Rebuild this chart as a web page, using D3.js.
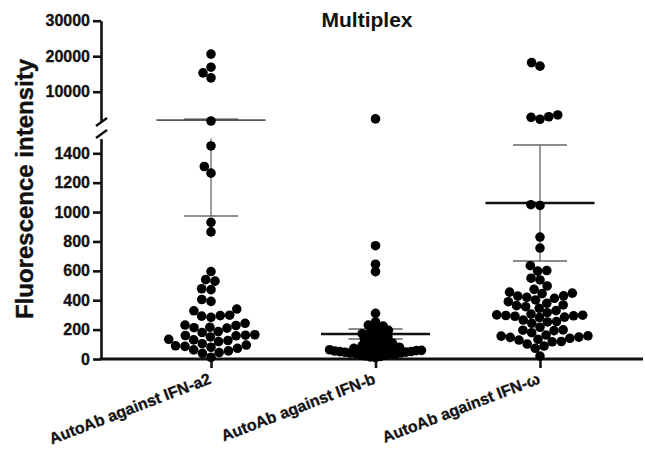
<!DOCTYPE html>
<html>
<head>
<meta charset="utf-8">
<script src="https://cdn.jsdelivr.net/npm/d3@7"></script>
<style>
  body { margin: 0; background: #fff; }
  text { font-family: "Liberation Sans", Arial, sans-serif; font-weight: bold; fill: #111; }
</style>
</head>
<body>
<svg id="canvas" width="645" height="468"></svg>
<script>
// ************************************************************************************************** //
// Data

const categories = ['AutoAb against IFN-a2', 'AutoAb against IFN-b', 'AutoAb against IFN-ω'];

const valuesA2 = [20600, 16900, 15300, 13900, 1750, 1450, 1310, 1265, 930, 865, 595, 540, 530, 478, 472, 405, 392,
  340, 328, 298, 295, 292, 284, 243, 231, 228, 216, 213, 210, 186, 180, 165, 162, 160, 158, 150, 134, 130, 126, 118,
  104, 95, 90, 86, 80, 73, 62, 55, 44, 39, 12];

const valuesB = [2350, 771, 645, 594, 311, 252, 231, 224, 210, 203, 195, 188, 181, 172, 166, 160, 151, 147, 140, 131,
  127, 119, 113, 108, 104, 97, 93, 88, 84, 80, 77, 73, 70, 68, 65, 63, 61, 59, 57, 56, 54, 53, 51, 50, 49, 47, 46, 44,
  42, 40, 38, 35, 33, 30, 26, 22, 18, 14, 10];

const valuesW = [18200, 17200, 3450, 2950, 2800, 2250, 1050, 1045, 830, 755, 635, 602, 598, 550, 538, 497, 474, 455,
  448, 445, 430, 428, 420, 413, 402, 390, 379, 368, 363, 356, 345, 329, 315, 306, 300, 298, 296, 294, 291, 285, 282,
  265, 255, 252, 243, 216, 198, 196, 193, 179, 163, 158, 156, 149, 147, 141, 134, 129, 119, 117, 102, 88, 73, 20];

const means = [2000, 170, 1062];
const sdLow = [973, 136, 667];
const sdHigh = [2100, 204, 1456];

const lowTicks = [0, 200, 400, 600, 800, 1000, 1200, 1400];
const highTicks = [10000, 20000, 30000];

const groups = [valuesA2, valuesB, valuesW];

// ************************************************************************************************** //
// Scales

const svg = d3.select('#canvas');
const axisX = 101, baseY = 359, breakV = 1500;

const yLow = d3.scaleLinear().domain([0, breakV]).range([baseY, 138.6]);
const yHigh = d3.scaleLinear().domain([breakV, 30000]).range([121.9, 20.7]);
const y = (v) => v <= breakV ? yLow(v) : yHigh(v);

const x = d3.scalePoint().domain(categories).range([211, 540]);

// ************************************************************************************************** //
// Beeswarm layout

function swarm(vals, diam, maxW){
  let k = 1, placed;
  while(true){
    const d = diam*k;
    placed = [];
    vals.slice().sort((a, b) => a - b).forEach((v) => {
      const py = y(v);
      const cands = [0];
      placed.forEach((p) => {
        const dy = Math.abs(p.y - py);
        if(dy < d){
          const dx = Math.sqrt(d*d - dy*dy) + 0.01;
          cands.push(p.x + dx, p.x - dx);
        }
      });
      const ok = cands.filter((cx) => placed.every((p) => (p.x-cx)*(p.x-cx) + (p.y-py)*(p.y-py) >= d*d - 1e-6));
      ok.sort((a, b) => Math.abs(a) - Math.abs(b) || a - b);
      placed.push({ x: ok[0], y: py, v: v });
    });
    const w = d3.max(placed, (p) => Math.abs(p.x));
    if(w <= maxW || k < 0.3) break;
    k -= 0.03;
  }
  return placed;
}

// ************************************************************************************************** //
// Axes

const fmt = d3.format('d');
const gLow = svg.append('g').attr('transform', 'translate(' + axisX + ',0)')
  .call(d3.axisLeft(yLow).tickValues(lowTicks).tickFormat(fmt).tickSize(8).tickSizeOuter(0).tickPadding(3));
const gHigh = svg.append('g').attr('transform', 'translate(' + axisX + ',0)')
  .call(d3.axisLeft(yHigh).tickValues(highTicks).tickFormat(fmt).tickSize(8).tickSizeOuter(0).tickPadding(3));

[gLow, gHigh].forEach((g) => {
  g.select('.domain').attr('stroke', '#111').attr('stroke-width', 2.6);
  g.selectAll('.tick line').attr('stroke', '#111').attr('stroke-width', 2.6);
  g.selectAll('.tick text').style('font-size', '16px').style('font-weight', 'bold')
    .style('stroke', '#111').style('stroke-width', 0.3).attr('fill', '#111');
});

// break marks
[[126, 118], [138, 130]].forEach((b) => {
  svg.append('line').attr('x1', axisX - 5).attr('y1', b[0]).attr('x2', axisX + 6).attr('y2', b[1])
    .attr('stroke', '#111').attr('stroke-width', 2.4);
});

const gx = svg.append('g').attr('transform', 'translate(0,' + baseY + ')')
  .call(d3.axisBottom(x).tickSize(9).tickSizeOuter(0).tickFormat(''));
gx.select('.domain').remove();
gx.selectAll('.tick line').attr('stroke', '#111').attr('stroke-width', 2.6);
gx.append('line').attr('x1', axisX - 1.3).attr('x2', 643).attr('y1', 0).attr('y2', 0)
  .attr('stroke', '#111').attr('stroke-width', 3);

svg.append('g').selectAll('text').data(categories).enter().append('text')
  .attr('transform', (d) => 'translate(' + (x(d) + 1) + ',383) rotate(-21)')
  .attr('text-anchor', 'end')
  .style('font-size', '16px').style('font-weight', 'bold')
  .style('stroke', '#111').style('stroke-width', 0.3)
  .text((d) => d);

// ************************************************************************************************** //
// Mean and SD

const gStats = svg.append('g');
categories.forEach((c, i) => {
  const cx = x(c);
  const lo = sdLow[i], hi = sdHigh[i];
  // vertical, split at the axis break
  if(lo < breakV){
    gStats.append('line').attr('x1', cx).attr('x2', cx).attr('y1', yLow(lo)).attr('y2', yLow(Math.min(hi, breakV)))
      .attr('stroke', '#666').attr('stroke-width', 1.3);
  }
  if(hi > breakV){
    gStats.append('line').attr('x1', cx).attr('x2', cx).attr('y1', yHigh(Math.max(lo, breakV))).attr('y2', yHigh(hi))
      .attr('stroke', '#666').attr('stroke-width', 1.3);
  }
  [lo, hi].forEach((v) => {
    gStats.append('line').attr('x1', cx - 27).attr('x2', cx + 27).attr('y1', y(v)).attr('y2', y(v))
      .attr('stroke', i == 0 && v == hi ? '#444' : '#666').attr('stroke-width', i == 0 && v == hi ? 2.6 : 1.4);
  });
  // the a2 mean sits in the break gap and is drawn lighter there
  gStats.append('line').attr('x1', cx - 54.5).attr('x2', cx + 54.5).attr('y1', y(means[i])).attr('y2', y(means[i]))
    .attr('stroke', i == 0 ? '#555' : '#111').attr('stroke-width', i == 0 ? 1.6 : 2.6);
});

// ************************************************************************************************** //
// Dots

groups.forEach((vals, i) => {
  const pts = swarm(vals, 9.4, 53);
  svg.append('g').selectAll('circle').data(pts).enter().append('circle')
    .attr('cx', (d) => x(categories[i]) + d.x)
    .attr('cy', (d) => d.y)
    .attr('r', 4.8)
    .attr('fill', '#000');
});

// ************************************************************************************************** //
// Titles

svg.append('text').attr('x', 367).attr('y', 27).attr('text-anchor', 'middle')
  .style('font-size', '21px').style('font-weight', 'bold').text('Multiplex');

svg.append('text').attr('transform', 'translate(33,189) rotate(-90)').attr('text-anchor', 'middle')
  .style('font-size', '24px').style('font-weight', 'bold')
  .style('stroke', '#111').style('stroke-width', 0.4)
  .text('Fluorescence intensity');
</script>
</body>
</html>
